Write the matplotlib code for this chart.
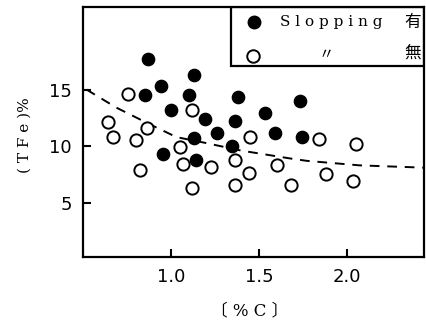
import matplotlib
matplotlib.use("Agg")
import matplotlib.pyplot as plt
from matplotlib.patches import Rectangle

plt.rcParams['font.family'] = ['DejaVu Sans', 'Noto Sans CJK JP']

# slopping present (filled)
with_c = [0.87, 0.85, 0.94, 1.13, 1.10, 1.00, 1.13, 0.955, 1.14, 1.19,
          1.26, 1.36, 1.38, 1.53, 1.59, 1.73, 1.74, 1.345]
with_fe = [17.7, 14.5, 15.3, 16.3, 14.5, 13.2, 10.7, 9.3, 8.8, 12.4,
           11.2, 12.2, 14.3, 12.9, 11.2, 14.0, 10.8, 10.0]

# slopping absent (open)
without_c = [0.757, 0.644, 0.67, 0.80, 0.865, 1.12, 1.05, 0.825, 1.07, 1.12,
             1.225, 1.36, 1.44, 1.36, 1.60, 1.68, 1.45, 1.84, 2.05, 1.88, 2.03]
without_fe = [14.6, 12.1, 10.8, 10.5, 11.6, 13.2, 9.9, 7.9, 8.4, 6.3,
              8.2, 8.8, 7.6, 6.6, 8.3, 6.6, 10.8, 10.6, 10.2, 7.5, 6.9]

# dashed boundary curve
curve_c = [0.52, 0.69, 0.87, 1.03, 1.19, 1.40, 1.68, 1.77, 2.07, 2.43]
curve_fe = [15.0, 13.4, 12.0, 10.8, 10.3, 9.6, 8.9, 8.7, 8.3, 8.1]

fig = plt.figure(figsize=(4.27, 3.27), dpi=100)
ax = fig.add_axes([83 / 427, 70 / 327, 341 / 427, 250 / 327])

ax.plot(curve_c, curve_fe, color="black", linestyle=(0, (5, 4)), linewidth=1.4)
ax.scatter(with_c, with_fe, s=78, color="black", zorder=3)
ax.scatter(without_c, without_fe, s=78, facecolor="white", edgecolor="black",
           linewidth=1.4, zorder=3)

ax.set_xlim(0.5, 2.435)
ax.set_ylim(0.2, 22.3)
ax.set_xticks([1.0, 1.5, 2.0])
ax.set_xticklabels(["1.0", "1.5", "2.0"])
ax.set_yticks([5, 10, 15])
ax.tick_params(direction="in", length=6, width=1.5, labelsize=13, pad=8)
for s in ax.spines.values():
    s.set_linewidth(1.6)

# legend box in the top right corner
lx0, ly0 = (231 - 83) / 341, 1 - (66 - 7) / 250
ax.add_patch(Rectangle((lx0, ly0), 1 - lx0, 1 - ly0, transform=ax.transAxes,
                       fill=False, edgecolor="black", linewidth=1.6, zorder=4))
ax.plot([(254 - 83) / 341], [1 - (22 - 7) / 250], "o", color="black",
        markersize=9, transform=ax.transAxes, clip_on=False)
ax.plot([(253 - 83) / 341], [1 - (56 - 7) / 250], "o", markerfacecolor="white",
        markeredgecolor="black", markeredgewidth=1.4, markersize=9,
        transform=ax.transAxes, clip_on=False)
ax.text((280 - 83) / 341, 1 - (22 - 7) / 250, "S l o p p i n g", family="DejaVu Serif",
        fontsize=11, va="center", ha="left", transform=ax.transAxes)
ax.text((421 - 83) / 341, 1 - (22 - 7) / 250, "有", family="Noto Sans CJK JP",
        fontsize=12, va="center", ha="right", transform=ax.transAxes)
ax.text((326 - 83) / 341, 1 - (54 - 7) / 250, "〃", family="Noto Sans CJK JP",
        fontsize=11, va="center", ha="center", transform=ax.transAxes)
ax.text((421 - 83) / 341, 1 - (53 - 7) / 250, "無", family="Noto Sans CJK JP",
        fontsize=12, va="center", ha="right", transform=ax.transAxes)

fig.text(25 / 427, 1 - 135 / 327, "( T F e )%", family="DejaVu Serif",
         fontsize=11, rotation=90, ha="center", va="center")
fig.text(250 / 427, 1 - 311 / 327, "〔 % C 〕", family=["DejaVu Serif", "Noto Sans CJK JP"],
         fontsize=12, ha="center", va="center")

fig.savefig("out.png", dpi=100)
